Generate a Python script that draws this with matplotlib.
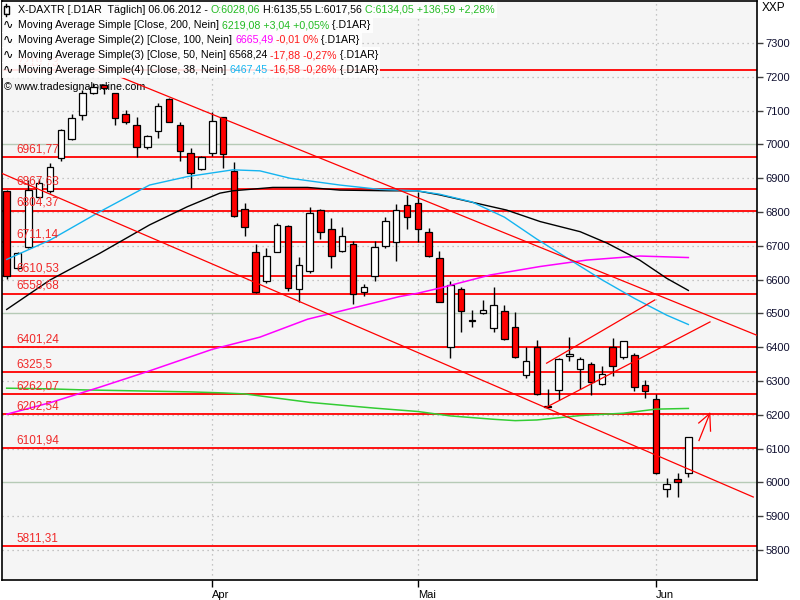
import matplotlib
matplotlib.use("Agg")
import matplotlib.pyplot as plt
from matplotlib.patches import Rectangle
from matplotlib.lines import Line2D

W, H = 800, 600

# ---------------- data ----------------
opens  = [6863, 6634, 6698, 6846, 6862, 6959, 7015, 7087, 7153, 7176,
          7151, 7089, 7058, 6992, 7041, 7134, 7058, 6974, 6927, 6974,
          7080, 6922, 6808, 6681, 6597, 6683, 6759, 6572, 6627, 6806,
          6749, 6686, 6705, 6563, 6611, 6701, 6712, 6821, 6826, 6742,
          6663, 6400, 6571, 6481, 6500, 6458, 6506, 6459, 6318, 6400,
          6225, 6274, 6374, 6335, 6350, 6291, 6400, 6370, 6377, 6288,
          6247, 5980, 6011, 6028.06]
highs  = [6866, 6683, 6895, 6898, 6945, 7045, 7090, 7161, 7181, 7180,
          7153, 7102, 7082, 7028, 7122, 7137, 7066, 6989, 6966, 7097,
          7082, 6949, 6826, 6706, 6695, 6769, 6762, 6666, 6814, 6808,
          6782, 6757, 6715, 6587, 6715, 6786, 6824, 6851, 6860, 6752,
          6686, 6597, 6577, 6510, 6540, 6577, 6525, 6504, 6400, 6422,
          6277, 6367, 6430, 6372, 6357, 6345, 6427, 6419, 6384, 6303,
          6262, 6012, 6027, 6135.55]
lows   = [6601, 6628, 6695, 6843, 6855, 6952, 7012, 7072, 7148, 7148,
          7058, 7061, 6962, 6987, 7018, 7066, 6952, 6870, 6925, 6966,
          6930, 6786, 6729, 6560, 6591, 6683, 6567, 6535, 6619, 6720,
          6634, 6681, 6528, 6553, 6596, 6695, 6656, 6749, 6712, 6666,
          6533, 6367, 6446, 6459, 6498, 6444, 6422, 6367, 6308, 6259,
          6219, 6244, 6360, 6276, 6259, 6288, 6316, 6365, 6271, 6249,
          6025, 5956, 5958, 6017.56]
closes = [6611, 6678, 6865, 6885, 6932, 7043, 7077, 7153, 7169, 7168,
          7077, 7067, 6992, 7025, 7114, 7066, 6982, 6917, 6962, 7070,
          6971, 6789, 6755, 6563, 6670, 6762, 6576, 6643, 6796, 6740,
          6670, 6729, 6558, 6579, 6696, 6774, 6806, 6785, 6749, 6670,
          6533, 6584, 6506, 6478, 6510, 6524, 6425, 6372, 6358, 6261,
          6222, 6364, 6381, 6364, 6298, 6320, 6345, 6419, 6282, 6271,
          6029, 5996, 6001, 6134.05]

month_pos    = [19, 38, 60]
month_labels = ["Apr", "Mai", "Jun"]

# moving averages (candle index, value)
ma200_idx = [0, 4, 7, 12, 17, 20, 22, 28, 34, 38, 41, 45, 47, 49, 53, 57, 60, 63]
ma200_val = [6279, 6277, 6274, 6271, 6268, 6265, 6262, 6237, 6220, 6210,
             6197, 6187, 6183, 6185, 6198, 6205, 6217, 6219.08]
ma100_idx = [0, 4, 8.6, 13, 19, 23.4, 27.8, 36.3, 38, 40, 44.7, 49.3, 53.6, 58.5, 63]
ma100_val = [6202, 6236, 6282, 6328, 6394, 6430, 6483, 6550, 6560, 6575,
             6614, 6639, 6658, 6670, 6665.49]
ma50_idx = [0, 4, 8.6, 13.2, 16.7, 19.7, 20.9, 24.6, 27.8, 30.8, 35.4, 37.9,
            40, 46.2, 49.3, 53, 55.5, 58.5, 61, 63]
ma50_val = [6512, 6599, 6678, 6762, 6816, 6856, 6863, 6873, 6873, 6865, 6863,
            6863, 6851, 6806, 6772, 6742, 6708, 6658, 6604, 6568.24]
ma38_idx = [0, 4, 8.6, 13.2, 16.7, 20.9, 23.4, 26.2, 30.8, 34.5, 37.9, 40,
            43, 46, 49, 52, 55, 58, 61, 63]
ma38_val = [6660, 6717, 6801, 6880, 6905, 6925, 6922, 6900, 6880, 6867, 6863,
            6853, 6830, 6785, 6720, 6660, 6600, 6545, 6495, 6467.45]

levels = [7219.73, 6961.77, 6867.63, 6804.37, 6711.14, 6610.53, 6558.68,
          6401.24, 6325.5, 6262.07, 6202.54, 6101.94, 5811.31]
level_labels = ["7219,73", "6961,77", "6867,63", "6804,37", "6711,14", "6610,53",
                "6558,68", "6401,24", "6325,5", "6262,07", "6202,54", "6101,94",
                "5811,31"]

# trend lines: (x0, y0, x1, y1) in candle index / price
trend_lines = [
    (10.47, 7200, 69.3, 6436),
    (-0.48, 6915, 69.0, 5957),
    (49.9, 6353, 59.9, 6540),
    (49.9, 6223, 65.0, 6475),
]
arrow_lines = [
    (63.98, 6124, 64.98, 6204),
    (64.98, 6204, 65.05, 6152),
    (64.98, 6204, 63.96, 6176),
]

yticks = list(range(5800, 7400, 100))

FONT = "Liberation Sans"
FS = 8
LFS = 7.7

# ---------------- figure ----------------
fig = plt.figure(figsize=(W / 100, H / 100), dpi=100)
fig.patch.set_facecolor("white")
axl, axr, axt, axb = 1.5, 757.5, 0.5, 580.0
ax = fig.add_axes([axl / W, 1 - axb / H, (axr - axl) / W, (axb - axt) / H])
ax.set_facecolor("#f5f5f5")
ax.set_xlim(-0.48, 69.39)
ax.set_ylim(5711.5, 7426)

# grid
for v in yticks:
    if v % 500 == 0:
        ax.axhline(v, color="#b6cab6", lw=1.0, zorder=1)
    else:
        ax.axhline(v, color="#b4b4b4", lw=0.9, ls=(0, (1, 3)), zorder=1)
for p in month_pos:
    ax.axvline(p, color="#b4b4b4", lw=0.9, ls=(0, (1, 3)), zorder=1)

# levels
for v, lab in zip(levels, level_labels):
    ax.axhline(v, color="#ff0000", lw=1.3, zorder=2)
    ax.annotate(lab, xy=(0.86, v), xytext=(0, 1.2), textcoords="offset points",
                ha="left", va="bottom", color="#f02828", fontsize=8.5,
                family=FONT, zorder=7)

# copyright (below candles)
ax.text(4 / W, 1 - 87 / H, "\u00a9 www.tradesignalonline.com",
        transform=fig.transFigure, ha="left", va="center", fontsize=LFS,
        family=FONT, color="black", zorder=1.5)

# candles
bw = 0.6
for i, (o, h, l, c) in enumerate(zip(opens, highs, lows, closes)):
    ax.vlines(i, l, h, color="black", lw=1.0, zorder=3)
    bot = min(o, c)
    ht = max(abs(c - o), 2.5)
    fc = "white" if c >= o else "#ff0000"
    ax.add_patch(Rectangle((i - bw / 2, bot), bw, ht, facecolor=fc,
                           edgecolor="black", lw=0.9, zorder=4))

# moving averages
ax.plot(ma200_idx, ma200_val, color="#33cc33", lw=1.1, zorder=5)
ax.plot(ma100_idx, ma100_val, color="#ff00ff", lw=1.1, zorder=5)
ax.plot(ma50_idx, ma50_val, color="black", lw=1.0, zorder=5)
ax.plot(ma38_idx, ma38_val, color="#14b4f0", lw=1.0, zorder=5)

for x0, y0, x1, y1 in trend_lines + arrow_lines:
    ax.plot([x0, x1], [y0, y1], color="#ff0000", lw=0.9, zorder=6)

# axes styling
for s in ax.spines.values():
    s.set_color("black")
    s.set_linewidth(1.2)
ax.yaxis.tick_right()
ax.set_yticks(yticks)
ax.set_yticklabels([str(v) for v in yticks], family=FONT, fontsize=FS, color="#101030")
ax.tick_params(axis="y", length=4, width=1, pad=2, color="#404040")
ax.set_xticks(month_pos)
ax.set_xticklabels(month_labels, family=FONT, fontsize=FS)
for t in ax.get_xticklabels():
    t.set_horizontalalignment("left")
ax.tick_params(axis="x", length=5, width=1, pad=2)

fig.text(762 / W, 1 - 8 / H, "XXP", ha="left", va="center", fontsize=8.5, family=FONT)

# ---------------- legend ----------------
renderer = fig.canvas.get_renderer()
GREEN = "#22bb22"
RED = "#ff1a1a"
legend_lines = [
    [("X-DAXTR [.D1AR  Täglich] 06.06.2012 - ", "black"), ("O:6028,06", GREEN),
     (" H:6135,55 L:6017,56 ", "black"), ("C:6134,05 +136,59 +2,28%", GREEN)],
    [("Moving Average Simple [Close, 200, Nein] ", "black"),
     ("6219,08 +3,04 +0,05%", GREEN), (" {.D1AR}", "black")],
    [("Moving Average Simple(2) [Close, 100, Nein] ", "black"), ("6665,49", "#ff00ff"),
     (" -0,01 0%", RED), (" {.D1AR}", "black")],
    [("Moving Average Simple(3) [Close, 50, Nein] 6568,24", "black"),
     (" -17,88 -0,27%", RED), (" {.D1AR}", "black")],
    [("Moving Average Simple(4) [Close, 38, Nein] ", "black"), ("6467,45", "#14b4f0"),
     (" -16,58 -0,26%", RED), (" {.D1AR}", "black")],
]
line_y = [10, 25, 40, 55, 70]
for k, (segs, yc) in enumerate(zip(legend_lines, line_y)):
    x = 18.0
    for s, c in segs:
        t = fig.text(x / W, 1 - yc / H, s, color=c, fontsize=LFS, family=FONT,
                     ha="left", va="center", zorder=11)
        bb = t.get_window_extent(renderer)
        x = bb.x1
    box = Rectangle((axl / W, 1 - (yc + 7.5) / H), (x + 2 - axl) / W, 15 / H,
                    transform=fig.transFigure, facecolor="white", alpha=0.88,
                    edgecolor="none", zorder=10)
    fig.add_artist(box)
    if k == 0:
        # candle icon
        fig.add_artist(Rectangle((3.5 / W, 1 - 13.5 / H), 5 / W, 7 / H,
                                 transform=fig.transFigure, facecolor="white",
                                 edgecolor="black", lw=1, zorder=12))
        fig.add_artist(Line2D([6 / W, 6 / W], [1 - 4 / H, 1 - 6.5 / H],
                              transform=fig.transFigure, color="black", lw=1, zorder=12))
        fig.add_artist(Line2D([6 / W, 6 / W], [1 - 13.5 / H, 1 - 16 / H],
                              transform=fig.transFigure, color="black", lw=1, zorder=12))
    else:
        fig.text(3 / W, 1 - yc / H, "\u223f", fontsize=9, family="DejaVu Sans",
                 ha="left", va="center", color="black", zorder=12)

fig.savefig("out.png", dpi=100, facecolor="white")
